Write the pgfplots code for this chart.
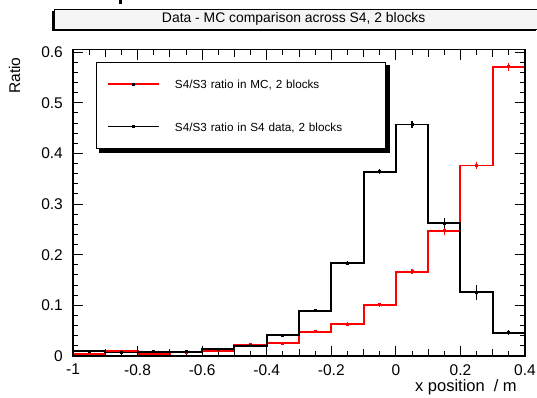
\documentclass[border=0pt]{standalone}
\usepackage{fontspec}
\setmainfont{Liberation Sans}
\usepackage{pgfplots}
\pgfplotsset{compat=1.18}

\begin{document}
\begin{tikzpicture}[x=1pt,y=1pt]
\useasboundingbox (0,0) rectangle (537,397);
% title box with shadow (left and bottom)
\fill[black] (52,365.5) rectangle (535.5,385.5);
\filldraw[fill=gray!8, draw=black, line width=0.5pt] (54,367.5) rectangle (537.5,387.5);
\node[font=\fontsize{13.9}{16}\selectfont, anchor=base, inner sep=0pt] at (293.7,374.5) {Data - MC comparison across S4, 2 blocks};
\fill[black] (119.3,393) rectangle (122,397);
% legend shadow
\fill[black] (99.2,244.5) rectangle (390.2,331.8);

\begin{axis}[
  at={(73pt,41pt)}, anchor=south west,
  scale only axis, width=452pt, height=306.5pt,
  xmin=-1, xmax=0.4, ymin=0, ymax=0.605,
  axis on top,
  axis line style={line width=1.3pt},
  every tick/.style={black, line width=0.9pt},
  tick align=inside,
  major tick length=10pt, minor tick length=5pt,
  xtick pos=both, ytick pos=both,
  xticklabel pos=lower, yticklabel pos=left,
  xtick={-1,-0.8,-0.6,-0.4,-0.2,0,0.2,0.4},
  xticklabels={-1,-0.8,-0.6,-0.4,-0.2,0,0.2,0.4},
  minor xtick={-0.95,-0.85,-0.75,-0.65,-0.55,-0.45,-0.35,-0.25,-0.15,-0.05,0.05,0.15,0.25,0.35},
  extra x ticks={-0.9,-0.7,-0.5,-0.3,-0.1,0.1,0.3},
  extra x tick labels={},
  extra x tick style={major tick length=7pt},
  ytick={0,0.1,0.2,0.3,0.4,0.5,0.6},
  yticklabels={0,0.1,0.2,0.3,0.4,0.5,0.6},
  minor y tick num=4,
  tick label style={font=\fontsize{15.5}{16}\selectfont, inner sep=0pt},
  xticklabel shift=8pt,
  yticklabel shift=10pt,
  xlabel={x position\hspace{9pt}/\hspace{4.5pt}m},
  xlabel style={at={(axis description cs:0.982,-0.116)}, anchor=base east, font=\fontsize{16.5}{17}\selectfont, inner sep=0pt},
  ylabel={Ratio},
  ylabel style={at={(axis description cs:-0.129,0.915)}, anchor=center, font=\fontsize{15.5}{16}\selectfont, inner sep=0pt},
  legend cell align=left,
  legend style={at={(axis description cs:0.0502,0.960)}, anchor=north west,
    draw=black, line width=0.8pt, fill=white,
    inner xsep=11pt, inner ysep=15.4pt, row sep=29.6pt, column sep=15.4pt,
    font=\fontsize{11.7}{14}\selectfont,
    nodes={inner sep=0pt},
    /tikz/every even column/.append style={text width=199pt, text height=11.4pt, text depth=3pt}},
]
\addplot[red, line width=1.9pt, const plot, forget plot]
 coordinates {
(-1,0.004) (-0.9,0.009) (-0.8,0.004) (-0.7,0.007) (-0.6,0.010) (-0.5,0.022) (-0.4,0.025)
(-0.3,0.048) (-0.2,0.063) (-0.1,0.101) (0,0.166) (0.1,0.247) (0.2,0.376) (0.3,0.571) (0.4,0.571)};
\addplot[black, line width=1.9pt, const plot, forget plot]
 coordinates {
(-1,0.009) (-0.9,0.007) (-0.8,0.008) (-0.7,0.008) (-0.6,0.013) (-0.5,0.020) (-0.4,0.041)
(-0.3,0.089) (-0.2,0.183) (-0.1,0.364) (0,0.457) (0.1,0.262) (0.2,0.126) (0.3,0.046) (0.4,0.046)};
\addplot[red, line width=1.2pt, only marks, mark=square*, mark size=0.9pt, forget plot,
  error bars/.cd, y dir=both, y explicit, error bar style={line width=1.2pt}, error mark=none] coordinates {
(-0.95,0.004) +- (0,0.002) (-0.85,0.009) +- (0,0.002) (-0.75,0.004) +- (0,0.002) (-0.65,0.007) +- (0,0.002)
(-0.55,0.010) +- (0,0.002) (-0.45,0.022) +- (0,0.003) (-0.35,0.025) +- (0,0.003) (-0.25,0.048) +- (0,0.003)
(-0.15,0.063) +- (0,0.004) (-0.05,0.101) +- (0,0.004) (0.05,0.166) +- (0,0.005) (0.15,0.247) +- (0,0.008)
(0.25,0.376) +- (0,0.007) (0.35,0.571) +- (0,0.008)};
\addplot[black, line width=1.2pt, only marks, mark=square*, mark size=0.9pt, forget plot,
  error bars/.cd, y dir=both, y explicit, error bar style={line width=1.2pt}, error mark=none] coordinates {
(-0.95,0.009) +- (0,0.002) (-0.85,0.007) +- (0,0.002) (-0.75,0.008) +- (0,0.002) (-0.65,0.008) +- (0,0.002)
(-0.55,0.013) +- (0,0.002) (-0.45,0.020) +- (0,0.003) (-0.35,0.041) +- (0,0.003) (-0.25,0.089) +- (0,0.003)
(-0.15,0.183) +- (0,0.004) (-0.05,0.364) +- (0,0.005) (0.05,0.457) +- (0,0.006) (0.15,0.262) +- (0,0.010)
(0.25,0.126) +- (0,0.015) (0.35,0.046) +- (0,0.005)};
\addlegendimage{legend image code/.code={\draw[red, line width=1.9pt] (0pt,0pt) -- (50.6pt,0pt); \fill[black] (24.3pt,-1pt) rectangle (26.3pt,1pt);}}
\addlegendentry{S4/S3 ratio in MC, 2 blocks}
\addlegendimage{legend image code/.code={\draw[black, line width=1.9pt] (0pt,0pt) -- (50.6pt,0pt); \fill[black] (24.3pt,-1pt) rectangle (26.3pt,1pt);}}
\addlegendentry{S4/S3 ratio in S4 data, 2 blocks}
\end{axis}
\end{tikzpicture}
\end{document}
